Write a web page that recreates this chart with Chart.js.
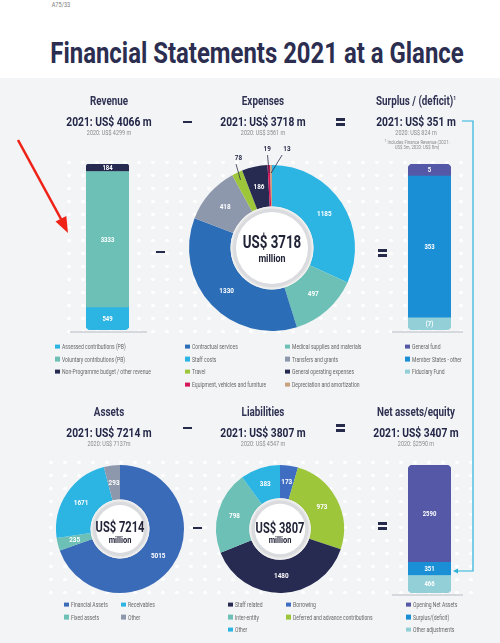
<!DOCTYPE html>
<html lang="en">
<head>
<meta charset="UTF-8">
<title>Financial Statements 2021 at a Glance</title>
<script src="https://cdn.jsdelivr.net/npm/chart.js"></script>
<style>
  body { margin: 0; background: #fff; }
  #page { position: relative; width: 500px; height: 643px; overflow: hidden; background: #fff;
          font-family: "Roboto", sans-serif; color: #262a4b; }
  #panel { position: absolute; left: 0; top: 78px; width: 500px; height: 565px; background: #f3f4f6; }
  .dots { position: absolute;
          background-image: radial-gradient(circle, #ffffff 1.5px, rgba(255,255,255,0) 2.1px);
          background-size: 14px 13px; }
  .t { position: absolute; transform: translate(-50%, -50%); white-space: nowrap; line-height: 1; }
  .head { font-size: 12px; font-weight: bold; color: #2f3252; transform: translate(-50%, -50%) scaleX(0.82); }
  .big { font-size: 13.5px; font-weight: bold; color: #242848; transform: translate(-50%, -50%) scaleX(0.76); }
  .small { font-size: 6.4px; color: #8a8a8a; transform: translate(-50%, -50%) scaleX(0.85); }
  .note { font-size: 5px; color: #8a8a8a; transform: translate(-50%, -50%) scaleX(0.85); }
  .op { position: absolute; background: #262a4b; height: 2.6px; width: 9px; }
  .base { position: absolute; height: 1.5px; background: #d5d8dd; }
  .leg { position: absolute; font-size: 6.8px; color: #666; white-space: nowrap; line-height: 1; transform: translateY(-50%); }
  .leg i { display: inline-block; width: 4.5px; height: 4.5px; margin-right: 2.5px; vertical-align: 0; }
  .leg span { display: inline-block; transform: scaleX(0.74); transform-origin: left center; }
  canvas { position: absolute; }
  svg { position: absolute; left: 0; top: 0; }
</style>
</head>
<body>
<div id="page">
  <div id="panel"></div>
  <div class="dots" style="left:62px;top:156px;width:412px;height:180px"></div>
  <div class="dots" style="left:44px;top:456px;width:430px;height:142px"></div>

  <div class="t" style="left:61px;top:5px;font-size:7px;color:#7a7a7a;transform:translate(-50%,-50%) scaleX(0.8)">A75/33</div>
  <div class="t" id="title" style="left:257px;top:53px;font-size:29px;font-weight:bold;color:#2b2e50">Financial Statements 2021 at a Glance</div>

  <canvas id="revenueChart" width="43" height="166" style="left:86px;top:164px"></canvas>
  <canvas id="expenseChart" width="210" height="210" style="left:167px;top:143px"></canvas>
  <canvas id="surplusChart" width="43" height="166" style="left:408px;top:164px"></canvas>
  <canvas id="assetChart" width="148" height="148" style="left:46px;top:455px"></canvas>
  <canvas id="liabilityChart" width="148" height="148" style="left:206px;top:455px"></canvas>
  <canvas id="netChart" width="43" height="128" style="left:408px;top:465px"></canvas>

  <div class="base" style="left:70px;top:331px;width:77px"></div>
  <div class="base" style="left:392px;top:331px;width:71px"></div>
  <div class="base" style="left:392px;top:594px;width:71px"></div>

  <svg width="500" height="643">
    <!-- red annotation arrow -->
    <line x1="18" y1="140" x2="61" y2="219" stroke="#ef2218" stroke-width="2.6" />
    <polygon points="68,233 66.3,216 55.5,221.4" fill="#ef2218" />
    <!-- surplus carried into net assets -->
    <polyline points="462,121 473,121 473,571 456,571" fill="none" stroke="#2bb3d9" stroke-width="1.2" />
    <polygon points="453,571 458,568.5 458,573.5" fill="#2bb3d9" />
  </svg>
</div>

<script>
// headline figures (US$ m)
const sections = ['Revenue', 'Expenses', 'Surplus / (deficit)<sup style="font-size:6px">1</sup>', 'Assets', 'Liabilities', 'Net assets/equity'];
const totals2021 = [4066, 3718, 351, 7214, 3807, 3407];
const totals2020 = [4299, 3561, 824, 7137, 4547, 2590];
const financeRevenue = [3, 8]; // 2021, 2020

// revenue bar (bottom to top)
const revenueLabels = ['Assessed contributions (PB)', 'Voluntary contributions (PB)', 'Non-Programme budget / other revenue'];
const revenueValues = [549, 3333, 184];

// expenses donut (clockwise from top)
const expenseLabels = ['Staff costs', 'Medical supplies and materials', 'Contractual services', 'Transfers and grants',
                       'Travel', 'General operating expenses', 'Equipment, vehicles and furniture', 'Depreciation and amortization'];
const expenseValues = [1185, 497, 1330, 418, 78, 186, 19, 13];

// surplus bar (bottom to top)
const surplusLabels = ['Fiduciary Fund', 'Member States - other', 'General fund'];
const surplusValues = [-7, 353, 5];

// assets donut
const assetLabels = ['Financial Assets', 'Fixed assets', 'Receivables', 'Other'];
const assetValues = [5015, 235, 1671, 293];

// liabilities donut
const liabilityLabels = ['Borrowing', 'Deferred and advance contributions', 'Staff related', 'Inter-entity', 'Other'];
const liabilityValues = [173, 973, 1480, 798, 383];

// net assets bar (bottom to top)
const netLabels = ['Other adjustments', 'Surplus/(deficit)', 'Opening Net Assets'];
const netValues = [466, 351, 2590];

// colours
const C = {
  navy: '#272b52', teal: '#6cc0b6', cyan: '#2cb5e2', blue: '#2b6db6', gray: '#8e98ad',
  green: '#9dc63b', red: '#d6175b', tan: '#c9a27e', purple: '#5558a6', msBlue: '#1a8fd6',
  light: '#92cfd7', faBlue: '#3a6bb8', borrow: '#3f6dc2'
};
const revenueColors = [C.cyan, C.teal, C.navy];
const expenseColors = [C.cyan, C.teal, C.blue, C.gray, C.green, C.navy, C.red, C.tan];
const surplusColors = [C.light, C.msBlue, C.purple];
const assetColors = [C.faBlue, C.teal, C.cyan, C.gray];
const liabilityColors = [C.borrow, C.green, C.navy, C.teal, C.cyan];
const netColors = [C.light, C.msBlue, C.purple];

const FONT = 'Roboto, sans-serif';
const page = document.getElementById('page');

function text(x, y, html, cls) {
  const d = document.createElement('div');
  d.className = 't ' + cls;
  d.style.left = x + 'px';
  d.style.top = y + 'px';
  d.innerHTML = html;
  page.appendChild(d);
  return d;
}

// headings
const colX = [109, 263, 416];
sections.forEach((s, i) => {
  const x = colX[i % 3];
  const y0 = i < 3 ? 101 : 412;
  text(x, y0, s, 'head');
  text(x, y0 + 21, '2021: US$ ' + totals2021[i] + ' m', 'big');
  const pre = i === 5 ? '$' : 'US$ ';
  text(x, y0 + 32, '2020: ' + pre + totals2020[i] + (i === 3 ? 'm' : ' m'), 'small');
});
text(417, 141.5, '<sup>1</sup> Includes Finance Revenue (2021:', 'note');
text(417, 147, 'US$ ' + financeRevenue[0] + 'm, 2020: US$ ' + financeRevenue[1] + 'm)', 'note');

// operators
function op(x, y, eq) {
  const bars = eq ? [-2.3, 2.3] : [0];
  bars.forEach(o => {
    const d = document.createElement('div');
    d.className = 'op';
    d.style.left = (x - 4.5) + 'px';
    d.style.top = (y - 1.3 + o) + 'px';
    page.appendChild(d);
  });
}
op(187, 122, false); op(340, 122, true);
op(187, 428, false); op(340, 428, true);
op(160, 252, false); op(382, 253, true);
op(197, 528, false); op(382, 526, true);

// title fit
const title = document.getElementById('title');
title.style.transform = 'translate(-50%, -50%) scaleX(' + (413 / title.offsetWidth) + ')';

// legends
function legend(x, y, label, color) {
  const d = document.createElement('div');
  d.className = 'leg';
  d.style.left = x + 'px';
  d.style.top = y + 'px';
  d.innerHTML = '<i style="background:' + color + '"></i><span>' + label + '</span>';
  page.appendChild(d);
}
function legendColumn(x, rows, labels, colors, order) {
  order.forEach((idx, r) => legend(x, rows[r], labels[idx], colors[idx]));
}
const topRows = [347, 359.5, 372, 385];
const botRows = [605, 617.5, 630];
legendColumn(55, topRows, revenueLabels, revenueColors, [0, 1, 2]);
legendColumn(185, topRows, expenseLabels, expenseColors, [2, 0, 4, 6]);
legendColumn(285, topRows, expenseLabels, expenseColors, [1, 3, 5, 7]);
legendColumn(405, topRows, surplusLabels, surplusColors, [2, 1, 0]);
legendColumn(64, botRows, assetLabels, assetColors, [0, 1]);
legendColumn(121, botRows, assetLabels, assetColors, [2, 3]);
legendColumn(228, botRows, liabilityLabels, liabilityColors, [2, 3, 4]);
legendColumn(286, botRows, liabilityLabels, liabilityColors, [0, 1]);
legendColumn(406, botRows, netLabels, netColors, [2, 1, 0]);

function fmt(v) { return v < 0 ? '(' + Math.abs(v) + ')' : String(v); }

// condensed canvas text
function narrowText(ctx, str, x, y, sx) {
  ctx.save();
  ctx.translate(x, y);
  ctx.scale(sx, 1);
  ctx.fillText(str, 0, 0);
  ctx.restore();
}

const segmentLabels = {
  id: 'segmentLabels',
  afterDatasetsDraw(chart, args, opts) {
    const ctx = chart.ctx;
    ctx.save();
    ctx.textAlign = 'center';
    ctx.textBaseline = 'middle';
    ctx.font = 'bold ' + (opts.size || 7) + 'px ' + FONT;
    if (chart.config.type === 'bar') {
      chart.data.datasets.forEach((ds, i) => {
        const bar = chart.getDatasetMeta(i).data[0];
        ctx.fillStyle = '#fff';
        narrowText(ctx, fmt(ds.raw), bar.x, (bar.y + bar.base) / 2 + 0.5, 0.85);
      });
    } else {
      const ds = chart.data.datasets[0];
      chart.getDatasetMeta(0).data.forEach((arc, i) => {
        const p = arc.getProps(['x', 'y', 'startAngle', 'endAngle', 'innerRadius', 'outerRadius'], true);
        const mid = (p.startAngle + p.endAngle) / 2;
        const out = opts.outside && opts.outside[i];
        if (out) {
          const lx = p.x + Math.cos(mid) * (p.outerRadius + 16) + out.dx;
          const ly = p.y + Math.sin(mid) * (p.outerRadius + 16);
          ctx.strokeStyle = '#2a2d4a';
          ctx.lineWidth = 0.8;
          ctx.beginPath();
          ctx.moveTo(p.x + Math.cos(mid) * (p.outerRadius - 8), p.y + Math.sin(mid) * (p.outerRadius - 8));
          ctx.lineTo(lx - out.dx * 0.3, ly + 6);
          ctx.stroke();
          ctx.fillStyle = '#2a2d4a';
          narrowText(ctx, ds.data[i], lx, ly, 0.85);
        } else {
          const r = (p.innerRadius + p.outerRadius) / 2;
          ctx.fillStyle = '#fff';
          narrowText(ctx, ds.data[i], p.x + Math.cos(mid) * r, p.y + Math.sin(mid) * r, 0.85);
        }
      });
    }
    ctx.restore();
  }
};

const centerBadge = {
  id: 'centerBadge',
  afterDraw(chart, args, opts) {
    if (!opts.title) return;
    const ctx = chart.ctx;
    const p = chart.getDatasetMeta(0).data[0].getProps(['x', 'y', 'innerRadius'], true);
    const circle = (r) => { ctx.beginPath(); ctx.arc(p.x, p.y, r, 0, Math.PI * 2); ctx.fill(); };
    ctx.save();
    ctx.fillStyle = '#f7f7f8';
    circle(p.innerRadius);
    ctx.shadowColor = 'rgba(0,0,0,0.18)';
    ctx.shadowBlur = 4;
    ctx.fillStyle = '#dadbde';
    circle(p.innerRadius - 2.5);
    ctx.shadowColor = 'transparent';
    ctx.fillStyle = '#fff';
    circle(p.innerRadius - 5.5);
    ctx.textAlign = 'center';
    ctx.textBaseline = 'middle';
    ctx.fillStyle = '#222438';
    ctx.font = 'bold ' + opts.size + 'px ' + FONT;
    narrowText(ctx, opts.title, p.x, p.y + opts.dy[0], 0.74);
    ctx.font = 'bold ' + (opts.size * 0.62) + 'px ' + FONT;
    narrowText(ctx, 'million', p.x, p.y + opts.dy[1], 0.8);
    ctx.restore();
  }
};

function stackBar(id, labels, values, colors) {
  const floor = 30; // smallest segments kept readable
  const shown = values.map(v => Math.max(Math.abs(v), floor));
  const total = shown.reduce((a, b) => a + b, 0);
  const last = labels.length - 1;
  new Chart(document.getElementById(id), {
    type: 'bar',
    data: {
      labels: [''],
      datasets: labels.map((l, i) => ({
        label: l,
        data: [shown[i]],
        raw: values[i],
        backgroundColor: colors[i],
        borderSkipped: false,
        borderRadius: i === last ? { topLeft: 5, topRight: 5 } : (i === 0 ? { bottomLeft: 5, bottomRight: 5 } : 0),
        barPercentage: 1,
        categoryPercentage: 1
      }))
    },
    options: {
      responsive: false,
      animation: false,
      layout: { padding: 0 },
      plugins: { legend: { display: false }, tooltip: { enabled: false }, segmentLabels: { size: 7 } },
      scales: {
        x: { display: false, stacked: true },
        y: { display: false, stacked: true, min: 0, max: total }
      }
    },
    plugins: [segmentLabels]
  });
}

function donut(id, labels, values, colors, cutout, pad, badge, outside) {
  new Chart(document.getElementById(id), {
    type: 'doughnut',
    data: { labels: labels, datasets: [{ data: values, backgroundColor: colors, borderWidth: 0 }] },
    options: {
      responsive: false,
      animation: false,
      cutout: cutout,
      layout: { padding: pad },
      plugins: {
        legend: { display: false }, tooltip: { enabled: false },
        segmentLabels: { size: 7.5, outside: outside },
        centerBadge: badge
      }
    },
    plugins: [segmentLabels, centerBadge]
  });
}

stackBar('revenueChart', revenueLabels, revenueValues, revenueColors);
stackBar('surplusChart', surplusLabels, surplusValues, surplusColors);
stackBar('netChart', netLabels, netValues, netColors);

donut('expenseChart', expenseLabels, expenseValues, expenseColors, '50%', 22,
  { title: 'US$ ' + totals2021[1], size: 18, dy: [-5, 11] },
  { 4: { dx: 8 }, 6: { dx: -1 }, 7: { dx: 16 } });
donut('assetChart', assetLabels, assetValues, assetColors, '46%', 10,
  { title: 'US$ ' + totals2021[3], size: 15, dy: [-1, 12] }, null);
donut('liabilityChart', liabilityLabels, liabilityValues, liabilityColors, '48%', 10,
  { title: 'US$ ' + totals2021[4], size: 15, dy: [0, 12] }, null);
</script>
</body>
</html>
